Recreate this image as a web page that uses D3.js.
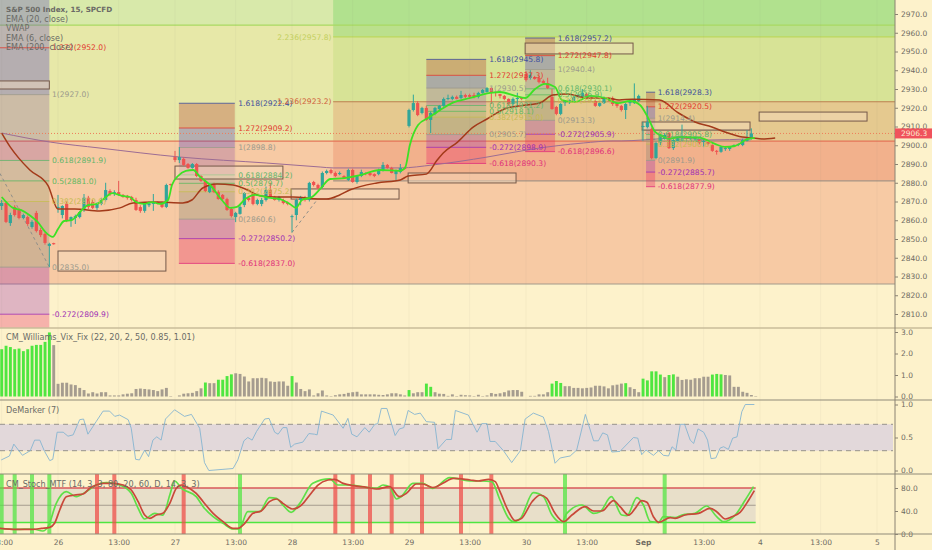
<!DOCTYPE html>
<html>
<head>
<meta charset="utf-8">
<script src="https://cdn.jsdelivr.net/npm/d3@7/dist/d3.min.js"></script>
<style>
  html, body { margin: 0; padding: 0; background: #fdf2cb; }
  svg { display: block; font-family: "DejaVu Sans", sans-serif; }
</style>
</head>
<body>
<script>
'use strict';

// open, high, low, close per 15 min bar, one list per session
const session25 = [
  [2867.6,2870.8,2865.5,2869.2],[2869.2,2870,2858.5,2859.1],[2858.5,2864,2857,2862.8],[2867.1,2868,2862,2862.8],
  [2865.5,2866.5,2860.5,2861.2],[2861.2,2863.5,2860.5,2862.8],[2861.7,2862.5,2857,2858],[2856.4,2860,2855.5,2859.1],
  [2863.9,2865,2853.5,2854.3],[2854.8,2856,2851,2852.1],[2852.7,2853.5,2847,2847.9],[2846.3,2848,2835,2847.4],
  [2847.8,2848,2847,2847.2]
];
const session26 = [
  [2866.6,2873.5,2864,2867.1],[2862.8,2868,2861,2867.6],[2868.7,2870,2859,2860.1],[2860.1,2862,2856.5,2861.7],
  [2861.2,2863,2858,2862.2],[2861.7,2865,2861,2864.4],[2865.5,2874,2864.5,2872],[2872,2873,2866,2867.1],
  [2869.7,2871,2866,2866.6],[2866.6,2869.5,2865.5,2868.7],[2868.7,2872,2868,2870.8],[2870.8,2880,2870,2876.1],
  [2875.6,2876.5,2873,2874],[2874,2876,2873,2875],[2875,2881,2873,2873.5],[2873.5,2874,2872,2872.4],
  [2873,2873.5,2871,2871.9],[2872.4,2873,2870,2870.8],[2870.8,2872,2865,2865.5],[2867,2868,2864,2865],
  [2865,2869.5,2864,2868.7],[2868,2870,2867,2869],[2868.7,2874,2865,2869.7],[2869.7,2870,2868.5,2869.2],
  [2869.2,2870,2866.5,2867.1],[2867.1,2879.5,2866.5,2878.8],[2879.3,2879.5,2878.5,2878.8]
];
const session27 = [
  [2893.7,2897,2891,2892.1],[2892.1,2899,2890.5,2893.7],[2892.7,2893.5,2889,2889.5],[2890,2890.5,2887.5,2887.9],
  [2887.9,2890.5,2887.5,2890],[2890,2890.5,2883,2883.6],[2883.6,2884,2880.5,2881],[2881,2881.5,2875,2875.6],
  [2875,2879.5,2874.5,2878.8],[2878.8,2880,2874.5,2875],[2875,2876,2871,2871.3],[2873.5,2874,2870.5,2871.3],
  [2871.3,2872,2865,2865.5],[2866,2867,2861.5,2862.3],[2861.7,2864.5,2859,2863.9],[2863.4,2868,2863,2867.1],
  [2868.1,2875,2867,2874.5],[2872,2872.5,2870,2870.8],[2874.5,2875,2868,2868.7],[2868.7,2871.5,2868,2870.8],
  [2868.7,2872,2867.5,2870.8],[2870.8,2878,2870,2876.1],[2876.1,2880,2872,2872.4],[2872.4,2873,2870.5,2870.8],
  [2870.8,2873,2870,2872.4],[2870.8,2871.5,2868.5,2869.2],[2869.2,2870,2868,2868.7]
];
const session28 = [
  [2861.7,2863,2853.5,2862.2],[2862.8,2871.5,2860,2870.8],[2870.8,2873,2868,2872.4],[2872,2873,2870,2870.8],
  [2870.8,2880.5,2870,2879.9],[2880.4,2881,2878,2878.8],[2878.8,2879.5,2876.5,2877.2],[2877.7,2886,2877,2885.2],
  [2885.2,2887,2884.5,2886.3],[2886.8,2887.5,2884.5,2885.2],[2885.2,2886,2883,2883.6],[2884.6,2886,2884,2885.2],
  [2883.6,2884,2882,2882.5],[2881.5,2887.5,2881,2886.8],[2886.8,2887.5,2880,2880.4],[2880.4,2884,2879.5,2883.6],
  [2883.6,2887,2883,2885.7],[2885.2,2885.5,2884,2884.6],[2885.2,2885.5,2883.5,2884.1],[2884.6,2885,2883,2883.6],
  [2884.6,2887.5,2884,2886.8],[2886.3,2891,2886,2889.5],[2889.5,2890,2887.5,2887.9],[2887.9,2888.5,2885,2885.2],
  [2884.6,2887,2881.5,2886.3],[2885.7,2890,2885,2887.9],[2887.9,2888.5,2887,2887.4]
];
const session29 = [
  [2910.3,2919.5,2909.5,2918.8],[2918.8,2927,2918,2922.5],[2922.5,2923.5,2915.5,2916.1],[2917.2,2920.5,2916.5,2919.9],
  [2919.9,2921,2913,2913.5],[2913.5,2918,2906.5,2917.2],[2916.7,2920.5,2916,2919.9],[2919.3,2921.5,2918.5,2921],
  [2921,2925.5,2920.5,2924.7],[2924.7,2927,2924,2925.2],[2924.7,2926.5,2924,2925.8],[2925.8,2926.5,2924.5,2924.7],
  [2925.2,2929,2924.5,2926.8],[2926.8,2927.5,2925,2925.8],[2926.8,2927.5,2925,2925.8],[2926.8,2928,2925,2925.8],
  [2925.8,2928.5,2925,2927.9],[2927.9,2930,2927.5,2929.5],[2928.4,2931,2928,2930.5],[2930.5,2931,2922,2928.4],
  [2928.4,2929,2926,2927.9],[2927.3,2927.5,2925,2926.3],[2926.3,2926.8,2924,2924.7],[2924.7,2925,2921.5,2922],
  [2922,2925.5,2921,2924.7],[2924.7,2928,2921,2925.2],[2925.2,2925.5,2924,2924.7]
];
const session30 = [
  [2938,2939.5,2934,2934.8],[2935.9,2940,2935,2937.5],[2936.4,2937,2935,2935.3],[2935.9,2937,2933,2933.7],
  [2934.3,2935,2932.5,2933.2],[2933.2,2936,2930,2930.5],[2925.8,2930,2919,2919.3],[2920.4,2921,2916,2916.7],
  [2916.7,2922.5,2916,2922],[2922.5,2924,2921,2923.6],[2923,2924.5,2922,2924.1],[2923.6,2926,2923,2925.8],
  [2925.8,2927.5,2925,2926.8],[2925.8,2930,2925,2927.9],[2927.3,2928,2924.5,2925.2],[2925.2,2925.5,2924,2924.7],
  [2923.6,2924,2920.5,2921],[2921,2923,2920.5,2922.5],[2922.5,2926,2922,2925.2],[2925.2,2925.5,2923.5,2924.1],
  [2925.2,2926,2921,2922],[2922.5,2923,2920,2921],[2921,2921.5,2918,2918.8],[2918.8,2922.5,2914,2922],
  [2922.5,2924,2921,2923],[2922.5,2933,2922,2924.7],[2923.6,2927,2923,2926.3]
];
const sessionSep = [
  [2909.7,2912.5,2902.5,2910.3],[2909.7,2921,2909,2912.4],[2908.7,2909.5,2892.5,2893.2],[2893.2,2902,2892.5,2901.2],
  [2901.2,2906,2900,2905.5],[2903.4,2906.5,2903,2905.5],[2906.5,2907,2898,2898.5],[2898.5,2903.5,2897.5,2902.8],
  [2902.3,2905,2901.5,2904.4],[2904.4,2911,2902,2905],[2904.4,2905,2903,2903.4],[2903.9,2905,2903,2904.4],
  [2903.4,2904.5,2902.5,2903.9],[2902.8,2903.3,2900.5,2901.2],[2901.7,2903,2899,2902.3],[2901.7,2902,2900,2900.7],
  [2900.1,2900.5,2896.5,2897],[2897,2897.5,2895,2896.5],[2896.5,2899.5,2896,2899.1],[2898,2899.5,2897,2898.5],
  [2898,2899.5,2897,2899.1],[2899.6,2900.5,2899,2900.1],[2900.1,2901,2899.5,2900.7],[2900.1,2903.5,2899.5,2902.8],
  [2902.3,2908,2902,2903.4],[2903.4,2909,2903,2906.3]
];
const firstBar = -13;

// line vertices as [bar, price]
const ema6 = [[-13,2872.4],[-10.4,2866.6],[-8.6,2865.5],[-6.3,2862.3],[-4.7,2859.1],[-2.9,2853.7],[-1.2,2851.1],[0,2855.3],[1.4,2859.6],[3.2,2860.1],[5.1,2864.4],[6.9,2868.1],[9,2868.7],[10.8,2871.9],[12.5,2874.5],[14.8,2873],[16.6,2872.4],[18,2869.7],[19.8,2868.7],[21.7,2869.7],[23.5,2868.7],[25.4,2870.8],[26.3,2878.8],[27.7,2883.6],[29.5,2886.3],[31.2,2886.8],[32.8,2883.1],[35.1,2878.8],[37.8,2870.8],[39.7,2866.6],[41.3,2867.1],[43.2,2871.3],[45.5,2873.5],[49,2871.9],[51.2,2871.3],[53.5,2868.7],[54.9,2866.6],[56.3,2870.8],[58.6,2872.4],[60.5,2876.7],[62.8,2882],[66.2,2882.5],[69.7,2884.1],[74.3,2886.8],[78.9,2886.3],[80.1,2887.9],[81.2,2900.1],[83.1,2910.8],[85.4,2914.5],[88.2,2918.8],[90.9,2922.5],[95.1,2925.2],[99.7,2927.9],[102,2928.4],[105.5,2926.3],[107.8,2925.2],[110.1,2930],[112.4,2932.7],[114.7,2931.1],[116.3,2924.1],[119.3,2923.1],[122.8,2926.3],[126.2,2925.2],[129.2,2922.5],[132,2923.6],[134.3,2921.5],[136.2,2914.5],[137.8,2907.1],[139.4,2905],[140.8,2903.4],[143.5,2904.4],[148.2,2903.9],[151.6,2900.7],[153.9,2899.1],[156.2,2899.6],[159.2,2903.4],[160.8,2903.9]];
const ema20 = [[-13,2906.5],[-11,2899],[-9,2893],[-6.5,2886.8],[-2.3,2878.5],[0,2866],[3.9,2866],[9.6,2865],[14.3,2866.6],[17.3,2869.2],[22.8,2869.7],[28.8,2869.2],[30.9,2870.8],[33.4,2877.2],[36.7,2879.3],[40.4,2878.8],[43.8,2876.1],[46.6,2873],[50.5,2872.4],[54.2,2872.4],[60.5,2871.3],[62,2871.3],[65,2873.5],[67.3,2876.1],[73.6,2879.9],[79,2881.5],[80.8,2883.6],[85,2884.6],[87.5,2892.1],[88.9,2895.9],[92.2,2901.7],[95.8,2909.7],[99,2914],[103.6,2919.9],[108.2,2921.5],[111.2,2922.5],[114.2,2926.8],[117.5,2927.3],[122.1,2925.2],[126.7,2925.2],[129.5,2924.1],[132.5,2924.6],[138.8,2924.1],[143.2,2917.2],[147,2912.4],[150.9,2909.7],[153.9,2907.1],[157.9,2904.4],[160.2,2903.9],[162.5,2903.4],[165.5,2903.9]];
const ema200 = [[-13,2906.5],[-1.8,2901.7],[9.7,2898.5],[28.2,2893.7],[48.2,2890.5],[60.5,2888.4],[63.5,2887.9],[79,2887.9],[86.5,2889.5],[99,2893.7],[109.6,2898],[121.2,2901.2],[128.1,2902.3],[130.1,2902.3],[134.8,2902.8],[143.2,2903.9],[150.2,2902.8],[159.7,2903.4]];

// Williams Vix Fix histogram, one value per bar
const vixValues = [2.2,2.36,2.3,2.2,2.23,2.11,2.2,2.36,2.4,2.4,2.54,2.98,2.39,
  .59,.64,.64,.56,.53,.4,.3,.14,.2,.14,.2,.2,.05,.05,.05,.1,.13,.15,.35,.37,.35,.33,.3,.25,.33,.4,.02,0,.05,.13,.15,.17,.25,.38,
  .65,.62,.62,.78,.78,.95,1.03,1.08,1.05,.93,.7,.85,.85,.87,.85,.7,.68,.7,.7,.5,.95,.65,.35,.25,.33,.05,.15,.28,.05,.02,.06,.1,
  .12,.17,.2,.22,.1,.1,.1,.1,.08,.07,.1,.15,.15,.1,.05,.3,.15,.2,.2,.6,.45,.2,.13,.12,.03,.1,.02,.08,.06,
  .05,.02,.08,.02,.05,.16,.12,.15,.2,.28,.3,.3,.22,0,.03,.03,.1,.1,.2,.6,.72,.63,.48,.48,.4,.4,.38,.4,.42,.5,.5,.47,.38,.52,.55,.6,.62,.43,.35,.2,
  .83,.75,1.17,1.17,1.02,.9,1,1.03,.92,.77,.8,.78,.85,.85,.92,.92,1.02,1.05,1.03,1,.98,.45,.45,.22,.17,.07,.02];
const vixGreenBars = [-13,-12,-11,-10,-9,-8,-7,-6,-5,-4,-3,-2,34,37,38,39,40,54,81,85,86,114,115,116,131,135,136,137,138,139,141,142,151,152,153];

const deMarker = [[-13.1,.16],[-11.2,.22],[-10.2,.4],[-8.2,.23],[-6.4,.3],[-5.4,.46],[-4.2,.46],[-3.1,.29],[-1.9,.15],[-1.2,.17],[-.2,.58],[1.2,.58],[2.3,.52],[3.5,.54],[5,.77],[5.9,.78],[6.9,.55],[8.8,.74],[10.4,.9],[11.9,.9],[13.1,.82],[14.2,.84],[16.2,.77],[16.9,.64],[17.9,.17],[18.8,.16],[20,.31],[20.9,.21],[21.9,.46],[22.8,.51],[23.8,.46],[24.8,.78],[26.9,.92],[29.2,.82],[30.8,.85],[32.7,.64],[33.8,.12],[34.8,0],[40.4,.03],[41.5,.16],[42.9,.45],[43.8,.5],[44.8,.46],[45.8,.59],[47.7,.78],[48.7,.79],[50,.58],[50.8,.55],[51.9,.65],[52.8,.65],[53.7,.35],[54.6,.4],[56.5,.43],[57.9,.56],[59.2,.55],[59.8,.54],[60.8,.9],[63.5,.84],[65.8,.64],[66.9,.79],[67.8,.55],[69,.51],[70.8,.65],[71.8,.58],[73.1,.7],[73.8,.71],[74.6,.94],[75.9,.94],[77.8,.53],[78.8,.63],[79.8,.65],[80.8,.91],[82.3,.85],[83.6,.87],[85,.74],[86.9,.73],[87.7,.33],[89.6,.47],[90.8,.47],[91.7,.91],[94.7,.84],[96.7,.58],[97.8,.71],[99,.71],[99.7,.44],[100.9,.44],[102.8,.3],[104.7,.12],[106.7,.3],[107.8,.78],[109.7,.87],[112,.81],[113.2,.59],[114.7,.11],[115.9,.19],[118.2,.22],[119.7,.31],[121.7,.85],[123.6,.45],[124.7,.45],[125.7,.57],[126.8,.54],[127.8,.28],[129.7,.29],[132.8,.5],[133.8,.49],[134.7,.24],[135.7,.31],[137.4,.23],[138.6,.3],[139.7,.23],[140.9,.22],[141.7,.36],[142.6,.31],[143.6,.7],[144.6,.7],[145.9,.46],[146.7,.41],[147.7,.63],[149,.58],[149.9,.46],[150.7,.18],[151.8,.19],[152.8,.34],[153.6,.36],[154.7,.32],[155.7,.49],[156.7,.51],[157.8,.89],[158.6,1],[160.7,1]];

const stochD = [[-13.5,9.9],[-9.6,8.1],[-5.8,8.1],[-3.8,9.9],[-1.9,11.6],[-.8,18.6],[.4,41.7],[1.9,64.9],[3.8,67.8],[5.8,69.6],[7.3,79.4],[8.8,85.2],[10.4,88.1],[12.7,88.1],[15,85.2],[16.9,76.5],[18.5,56.2],[20,33],[21.2,27.2],[22.7,33],[24.2,35.9],[25.8,53.3],[27.3,79.4],[28.5,85.2],[29.6,82.3],[31.9,70.7],[33.5,56.2],[35.8,35.9],[38.1,21.4],[40.4,9.9],[41.5,9.9],[43.1,18.6],[45,35.9],[46.9,40],[48.8,56.2],[50.4,60.9],[51.9,53.3],[54.2,43.5],[56.2,50.4],[58.1,67.8],[60,85.2],[62.3,93.9],[63.8,95.1],[65.8,88.1],[68.1,84.1],[71.2,81.2],[73.5,78.3],[76.5,82.3],[78.8,64.9],[80.4,70.7],[82.7,87],[84.2,87],[86.5,80.6],[88.8,88.1],[91.2,96.8],[95.1,93.9],[97,92.2],[99.4,95.1],[100.9,91],[102,73.6],[104,38.8],[105.5,23.2],[107,27.2],[109.4,56.2],[111.3,67.8],[112.8,62],[114.7,35.9],[116.7,21.4],[118.6,33],[121.7,47.5],[123.6,40],[125.5,40],[128.2,58],[129.7,47.5],[131.7,33],[133.2,44.6],[134.7,58],[135.9,55.1],[137.4,30.1],[138.6,20.3],[141.3,28.4],[142.4,27.2],[144.7,33],[147.8,35.9],[150.5,44.6],[152,38.8],[154,26.1],[155.5,30.1],[157.4,37.7],[159.4,59.1],[160.7,75.4]];
const stochK = [[-13.5,9.9],[-9.6,8.1],[-5.8,8.7],[-3.5,5.2],[-2.3,12.8],[-.4,53.3],[1.9,73.6],[4.2,64.9],[6.5,73.6],[8.8,85.2],[11.2,89.3],[14.2,85.2],[16.9,70.7],[18.5,44.6],[20,26.1],[22.3,35.9],[24.2,33],[25.8,67.8],[26.9,92.2],[28.5,79.4],[31.9,64.9],[33.5,47.5],[35.8,30.1],[38.1,18.6],[40.4,8.7],[41.8,8.7],[43.8,38.8],[46.5,38.8],[48.8,63.2],[50.4,62],[51.9,50.4],[53.8,37.7],[55.8,53.3],[58.8,88.1],[62.7,95.7],[64.6,85.2],[67.3,85.2],[71.2,81.2],[73.5,79.4],[75,85.2],[76.5,82.3],[78.1,60.9],[79.2,64.9],[81.9,88.1],[84.2,88.1],[86.5,79.4],[90.4,98],[95.5,92.2],[97.8,92.2],[100.1,91],[102,59.1],[104,27.2],[105.1,21.4],[106.7,27.2],[109.7,71.9],[112,64.9],[114,33],[115.5,21.4],[116.3,20.3],[117.4,35.9],[120.9,50.4],[123.6,35.9],[125.1,38.8],[127.7,64.9],[130.1,33],[131.3,31.9],[133.6,63.2],[135.1,50.4],[136.7,21.4],[138.6,20.3],[139.7,30.1],[142.4,28.4],[144,33],[147,35.9],[149.7,48.7],[152,30.1],[153.6,21.4],[156.3,33],[158.6,59.1],[160.5,82.3]];
const stochGreenBars = [-13,-10,-6,-2,42,117,140];
const stochRedBars = [9,13,29,64,68,72,77,84,93,100];

// support and resistance zones: top price, bottom price, from bar, colour, alpha
const zoneTops = [2980,2964.1,2923.2,2957.8,2957.8];
const zoneBottoms = [2964.1,2902.2,2881,2923.2,2980];
const zoneFromBars = [-14,-14,63.5,63.5,63.5];
const zoneColors = ['#8fd868','#b6d25a','#e2512f','#7fc82c','#4ccc48'];
const zoneAlphas = [.33,.3,.2,.15,.28];
const peachZone = [2902.2,2826];
const zoneLinePrices = [2964.1,2957.8,2923.2,2902.2,2881,2826];
const zoneLineFromBars = [-14,63.5,63.5,-14,63.5,-14];
const zoneLineColors = ['#a9da62','#bcd75c','#bd7f4f','#e47458','#a69585','#a39a8c'];

// fibonacci tools
const fibCoef = ['1.618','1.272','1','0.618','0.5','0.382','0','-0.272','-0.618'];
const fibColors = ['#3f4f9c','#e23b30','#9c9a8c','#62b56a','#5fb860','#c6bb52','#9c9a8c','#a02fb4','#e0307a'];
const bandColors = ['#b03a30','#5f48c0','#8a4aa0','#5a8a8a','#6a8a5a','#6f7a6a','#9c27b0','#e91e63'];
const bandAlphas = [.32,.36,.28,.22,.22,.28,.3,.3];
const fibs = [
  {from: -13.5, to: -2, labelBar: -1.4, first: 1, topBand: 1, prices: [2997.4,2952,2927,2891.9,2881,2870,2835,2809.9,2778]},
  {from: 27.9, to: 40.8, labelBar: 41.6, first: 0, topBand: 0, prices: [2922.4,2909.2,2898.8,2884.2,2879.7,2875.2,2860.6,2850.2,2837]},
  {from: 85, to: 98.8, labelBar: 99.5, first: 0, topBand: 0, prices: [2945.8,2937.3,2930.5,2921.2,2918.1,2915,2905.7,2898.9,2890.3]},
  {from: 107.8, to: 114.7, labelBar: 115.3, first: 0, topBand: 0, prices: [2957.2,2947.8,2940.4,2930.1,2926.9,2923.7,2913.3,2905.9,2896.6]},
  {from: 135.7, to: 137.8, labelBar: 138.4, first: 0, topBand: 0, prices: [2928.3,2920.5,2914.4,2905.8,2903.2,2900.6,2891.9,2885.7,2877.9]}
];
const extraFibLabels = ['2.236(2957.8)','1.236(2923.2)'];
const extraFibPrices = [2957.8,2923.2];
const extraFibColors = ['#c3cf5e','#d0603a'];

// [left bar, right bar, top price, bottom price]
const boxes = [[-13.5,-2,2934.3,2930],[0,24.9,2843.6,2832.9],[27,51.9,2888.9,2882],[53.8,78.7,2876.7,2871.3],[80.8,105.7,2885.2,2879.9],[107.8,132.7,2954.5,2948.7],[134.8,159.7,2912.4,2908.1],[161.8,186.7,2917.7,2912.9]];
const fadedBoxes = [[134.8,159.7,2908.1,2902.3]];
// dashed fib trend lines, [bar, price] pairs
const trendLines = [[[-13.4,2885],[-2,2835]],[[54,2853.5],[59.5,2870]]];

const priceTicks = [2970,2960,2950,2940,2930,2920,2910,2900,2890,2880,2870,2860,2850,2840,2830,2820,2810];
const lastPrice = 2906.3;
const vixTicks = [0,1,2,3];
const demTicks = [0,.5,1];
const stochTicks = [0,40,80];
const timeBars = [-13,0,14,27,41,54,68,81,95,108,122,135,149,162,176,189];
const timeLabels = ['13:00','26','13:00','27','13:00','28','13:00','29','13:00','30','13:00','Sep','13:00','4','13:00','5'];
const legendLines = ['S&P 500 Index, 15, SPCFD','EMA (20, close)','VWAP','EMA (6, close)','EMA (200, close)'];

const width = 932;
const height = 550;
const axisX = 895;

const candles = [].concat(session25, session26, session27, session28, session29, session30, sessionSep)
  .map((d, i) => ({bar: i + firstBar, open: d[0], high: d[1], low: d[2], close: d[3]}));

const x = d3.scaleLinear().domain([0, 27]).range([58, 175]);
const yPrice = d3.scaleLinear().domain([2970, 2810]).range([14, 314]);
const yVix = d3.scaleLinear().domain([0, 3]).range([396.5, 332]);
const yDem = d3.scaleLinear().domain([0, 1]).range([470.5, 404.5]);
const yStoch = d3.scaleLinear().domain([0, 80]).range([534, 488]);

const svg = d3.select('body')
  .append('svg')
  .attr('width', width)
  .attr('height', height);

const defs = svg.append('defs');
defs.append('clipPath').attr('id', 'mainClip').append('rect')
  .attr('width', axisX).attr('height', 328);

const main = svg.append('g').attr('clip-path', 'url(#mainClip)');

// zones
main.append('rect')
  .attr('x', 0)
  .attr('width', axisX)
  .attr('y', yPrice(peachZone[0]))
  .attr('height', yPrice(peachZone[1]) - yPrice(peachZone[0]))
  .attr('fill', '#ee7a55')
  .attr('opacity', .33);

main.selectAll('rect.zone')
  .data(zoneTops)
  .enter()
  .append('rect')
  .attr('class', 'zone')
  .attr('x', (d, i) => x(zoneFromBars[i]))
  .attr('width', (d, i) => axisX - x(zoneFromBars[i]))
  .attr('y', (d, i) => Math.min(yPrice(d), yPrice(zoneBottoms[i])))
  .attr('height', (d, i) => Math.abs(yPrice(zoneBottoms[i]) - yPrice(d)))
  .attr('fill', (d, i) => zoneColors[i])
  .attr('opacity', (d, i) => zoneAlphas[i]);

main.selectAll('line.zoneLine')
  .data(zoneLinePrices)
  .enter()
  .append('line')
  .attr('class', 'zoneLine')
  .attr('x1', (d, i) => x(zoneLineFromBars[i]))
  .attr('x2', axisX)
  .attr('y1', (d) => yPrice(d))
  .attr('y2', (d) => yPrice(d))
  .attr('stroke', (d, i) => zoneLineColors[i])
  .attr('stroke-width', 1.2);

// vertical grid
svg.selectAll('line.grid')
  .data(timeBars)
  .enter()
  .append('line')
  .attr('class', 'grid')
  .attr('x1', (d) => x(d))
  .attr('x2', (d) => x(d))
  .attr('y1', 0)
  .attr('y2', 534)
  .attr('stroke', '#8a8a80')
  .attr('stroke-opacity', .07);

// fib tools
fibs.forEach((fib) => {
  const g = main.append('g');
  d3.range(fib.prices.length - 1).forEach((j) => {
    g.append('rect')
      .attr('x', x(fib.from))
      .attr('width', x(fib.to) - x(fib.from))
      .attr('y', yPrice(fib.prices[j]))
      .attr('height', yPrice(fib.prices[j + 1]) - yPrice(fib.prices[j]))
      .attr('fill', bandColors[j === 0 ? fib.topBand : j])
      .attr('opacity', bandAlphas[j]);
  });
  g.selectAll('line')
    .data(fib.prices)
    .enter()
    .append('line')
    .attr('x1', x(fib.from))
    .attr('x2', x(fib.to))
    .attr('y1', (d) => yPrice(d))
    .attr('y2', (d) => yPrice(d))
    .attr('stroke', (d, i) => fibColors[i])
    .attr('stroke-opacity', .8);
});

main.selectAll('line.trend')
  .data(trendLines)
  .enter()
  .append('line')
  .attr('class', 'trend')
  .attr('x1', (d) => x(d[0][0]))
  .attr('y1', (d) => yPrice(d[0][1]))
  .attr('x2', (d) => x(d[1][0]))
  .attr('y2', (d) => yPrice(d[1][1]))
  .attr('stroke', '#8f8f8a')
  .attr('stroke-dasharray', '3,3');

// boxes
main.selectAll('rect.faded')
  .data(fadedBoxes)
  .enter()
  .append('rect')
  .attr('class', 'faded')
  .attr('x', (d) => x(d[0]))
  .attr('width', (d) => x(d[1]) - x(d[0]))
  .attr('y', (d) => yPrice(d[2]))
  .attr('height', (d) => yPrice(d[3]) - yPrice(d[2]))
  .attr('fill', 'none')
  .attr('stroke', '#a8a488');

main.selectAll('rect.box')
  .data(boxes)
  .enter()
  .append('rect')
  .attr('class', 'box')
  .attr('x', (d) => x(d[0]))
  .attr('width', (d) => x(d[1]) - x(d[0]))
  .attr('y', (d) => yPrice(d[2]))
  .attr('height', (d) => yPrice(d[3]) - yPrice(d[2]))
  .attr('fill', '#f5ddc0')
  .attr('fill-opacity', .45)
  .attr('stroke', '#75594a')
  .attr('stroke-width', 1);

// last price dotted line
main.append('line')
  .attr('x1', 0)
  .attr('x2', axisX)
  .attr('y1', yPrice(lastPrice))
  .attr('y2', yPrice(lastPrice))
  .attr('stroke', '#ef7d5a')
  .attr('stroke-dasharray', '1,2');

const priceLine = d3.line()
  .curve(d3.curveMonotoneX)
  .x((d) => x(d[0]))
  .y((d) => yPrice(d[1]));

main.append('path')
  .datum(ema200)
  .attr('d', priceLine)
  .attr('fill', 'none')
  .attr('stroke', '#9c6c94')
  .attr('stroke-width', 1);

// candles
main.selectAll('line.wick')
  .data(candles)
  .enter()
  .append('line')
  .attr('class', 'wick')
  .attr('x1', (d) => x(d.bar))
  .attr('x2', (d) => x(d.bar))
  .attr('y1', (d) => yPrice(d.high))
  .attr('y2', (d) => yPrice(d.low))
  .attr('stroke', (d) => d.close >= d.open ? '#2fa69a' : '#ef5350');

main.selectAll('rect.body')
  .data(candles)
  .enter()
  .append('rect')
  .attr('class', 'body')
  .attr('x', (d) => x(d.bar) - 1.6)
  .attr('width', 3.2)
  .attr('y', (d) => yPrice(Math.max(d.open, d.close)))
  .attr('height', (d) => Math.max(1, Math.abs(yPrice(d.open) - yPrice(d.close))))
  .attr('fill', (d) => d.close >= d.open ? '#2fa69a' : '#ef5350');

main.append('path')
  .datum(ema20)
  .attr('d', priceLine)
  .attr('fill', 'none')
  .attr('stroke', '#a33a1a')
  .attr('stroke-width', 1.5);

main.append('path')
  .datum(ema6)
  .attr('d', priceLine)
  .attr('fill', 'none')
  .attr('stroke', '#3ce224')
  .attr('stroke-width', 1.8);

// fib labels
fibs.forEach((fib) => {
  const shown = d3.range(fib.first, fib.prices.length).filter((j) => fib.prices[j] > 2800);
  main.append('g').selectAll('text')
    .data(shown)
    .enter()
    .append('text')
    .attr('x', x(fib.labelBar))
    .attr('y', (j) => yPrice(fib.prices[j]))
    .attr('dy', '.35em')
    .attr('font-size', 7.6)
    .attr('fill', (j) => fibColors[j])
    .text((j) => `${fibCoef[j]}(${fib.prices[j].toFixed(1)})`);
});

main.selectAll('text.extra')
  .data(extraFibLabels)
  .enter()
  .append('text')
  .attr('class', 'extra')
  .attr('x', x(50.6))
  .attr('y', (d, i) => yPrice(extraFibPrices[i]))
  .attr('dy', '.35em')
  .attr('font-size', 7.6)
  .attr('fill', (d, i) => extraFibColors[i])
  .text((d) => d);

// legend
svg.selectAll('text.legend')
  .data(legendLines)
  .enter()
  .append('text')
  .attr('class', 'legend')
  .attr('x', 6)
  .attr('y', (d, i) => 12 + i * 9.6)
  .attr('font-size', (d, i) => i === 0 ? 7.2 : 8)
  .attr('font-weight', (d, i) => i === 0 ? 'bold' : 'normal')
  .attr('fill', '#6a6a66')
  .text((d) => d);

// williams vix fix pane
const vixGreen = new Set(vixGreenBars);
svg.selectAll('rect.vix')
  .data(vixValues)
  .enter()
  .append('rect')
  .attr('class', 'vix')
  .attr('x', (d, i) => x(i + firstBar) - 1.4)
  .attr('width', 2.9)
  .attr('y', (d) => yVix(d))
  .attr('height', (d) => yVix(0) - yVix(d))
  .attr('fill', (d, i) => vixGreen.has(i + firstBar) ? '#4fe640' : '#a59c8f');

svg.append('text')
  .attr('x', 6).attr('y', 340)
  .attr('font-size', 8.1).attr('fill', '#6a6a66')
  .text('CM_Williams_Vix_Fix (22, 20, 2, 50, 0.85, 1.01)');

// demarker pane
svg.append('rect')
  .attr('x', 0)
  .attr('width', axisX - 2)
  .attr('y', yDem(.7))
  .attr('height', yDem(.3) - yDem(.7))
  .attr('fill', '#e2d8da');

svg.selectAll('line.demLevel')
  .data([.7, .3])
  .enter()
  .append('line')
  .attr('class', 'demLevel')
  .attr('x1', 0)
  .attr('x2', axisX - 2)
  .attr('y1', (d) => yDem(d))
  .attr('y2', (d) => yDem(d))
  .attr('stroke', '#97938c')
  .attr('stroke-dasharray', '5,4');

svg.append('path')
  .datum(deMarker)
  .attr('d', d3.line().x((d) => x(d[0])).y((d) => yDem(d[1])))
  .attr('fill', 'none')
  .attr('stroke', '#86b4d0')
  .attr('stroke-width', .9);

svg.append('text')
  .attr('x', 6).attr('y', 413)
  .attr('font-size', 8.1).attr('fill', '#6a6a66')
  .text('DeMarker (7)');

// stoch pane
svg.append('rect')
  .attr('x', 0)
  .attr('width', x(161) - 0)
  .attr('y', yStoch(80))
  .attr('height', yStoch(20) - yStoch(80))
  .attr('fill', '#e8dfc9');

svg.selectAll('line.stochLevel')
  .data([80, 50, 20])
  .enter()
  .append('line')
  .attr('class', 'stochLevel')
  .attr('x1', 0)
  .attr('x2', x(161))
  .attr('y1', (d) => yStoch(d))
  .attr('y2', (d) => yStoch(d))
  .attr('stroke', (d) => d === 80 ? '#d8585a' : d === 20 ? '#4fe640' : '#a59c8f')
  .attr('stroke-width', (d) => d === 50 ? 1 : 1.4);

const stochBar = (selection, color) => selection
  .attr('x', (d) => x(d) - 2)
  .attr('width', 4)
  .attr('y', 474)
  .attr('height', 60)
  .attr('fill', color)
  .attr('opacity', .72);

svg.selectAll('rect.stochGreen').data(stochGreenBars).enter().append('rect')
  .attr('class', 'stochGreen').call(stochBar, '#4fe640');
svg.selectAll('rect.stochRed').data(stochRedBars).enter().append('rect')
  .attr('class', 'stochRed').call(stochBar, '#ef4a45');

const stochLine = d3.line().curve(d3.curveMonotoneX).x((d) => x(d[0])).y((d) => yStoch(d[1]));
svg.append('path').datum(stochK).attr('d', stochLine)
  .attr('fill', 'none').attr('stroke', '#5fe048').attr('stroke-width', 1.7);
svg.append('path').datum(stochD).attr('d', stochLine)
  .attr('fill', 'none').attr('stroke', '#c9483a').attr('stroke-width', 1.7);

svg.append('text')
  .attr('x', 6).attr('y', 487)
  .attr('font-size', 8.1).attr('fill', '#6a6a66')
  .text('CM_Stoch_MTF (14, 3, 3, 80, 20, 60, D, 14, 3, 3)');

// axes
const styleAxis = (g) => {
  g.select('.domain').remove();
  g.selectAll('line').attr('stroke', '#8a8272');
  g.selectAll('text').attr('fill', '#6f6b62').attr('font-size', 7.5)
    .attr('font-family', '"DejaVu Sans", sans-serif');
};
const rightAxis = (scale, ticks, decimals) => svg.append('g')
  .attr('transform', `translate(${axisX},0)`)
  .call(d3.axisRight(scale).tickValues(ticks).tickFormat(d3.format(decimals)).tickSize(3).tickPadding(3))
  .call(styleAxis);

rightAxis(yPrice, priceTicks, '.1f');
rightAxis(yVix, vixTicks, '.1f');
rightAxis(yDem, demTicks, '.1f');
rightAxis(yStoch, stochTicks, '.1f');

svg.append('g')
  .attr('transform', 'translate(0,534)')
  .call(d3.axisBottom(x).tickValues(timeBars).tickFormat((d, i) => timeLabels[i]).tickSize(0).tickPadding(6))
  .call(styleAxis)
  .call((g) => g.selectAll('text')
    .attr('font-weight', (d, i) => timeLabels[i] === 'Sep' ? 'bold' : 'normal'));

// pane separators
svg.selectAll('line.sep')
  .data([328, 400, 474, 534])
  .enter()
  .append('line')
  .attr('class', 'sep')
  .attr('x1', 0)
  .attr('x2', width)
  .attr('y1', (d) => d)
  .attr('y2', (d) => d)
  .attr('stroke', (d) => d === 328 ? '#c9bd9a' : '#8f8a78')
  .attr('stroke-width', (d) => d === 328 ? 1.5 : 1);

svg.append('line')
  .attr('x1', axisX)
  .attr('x2', axisX)
  .attr('y1', 0)
  .attr('y2', height)
  .attr('stroke', '#8a8272');

// last price tag
svg.append('rect')
  .attr('x', axisX)
  .attr('y', yPrice(lastPrice) - 5)
  .attr('width', width - axisX)
  .attr('height', 10)
  .attr('fill', '#f0525c');
svg.append('text')
  .attr('x', 901)
  .attr('y', yPrice(lastPrice))
  .attr('dy', '.35em')
  .attr('font-size', 7.5)
  .attr('fill', '#fbe9d0')
  .text(lastPrice.toFixed(1));
</script>
</body>
</html>
